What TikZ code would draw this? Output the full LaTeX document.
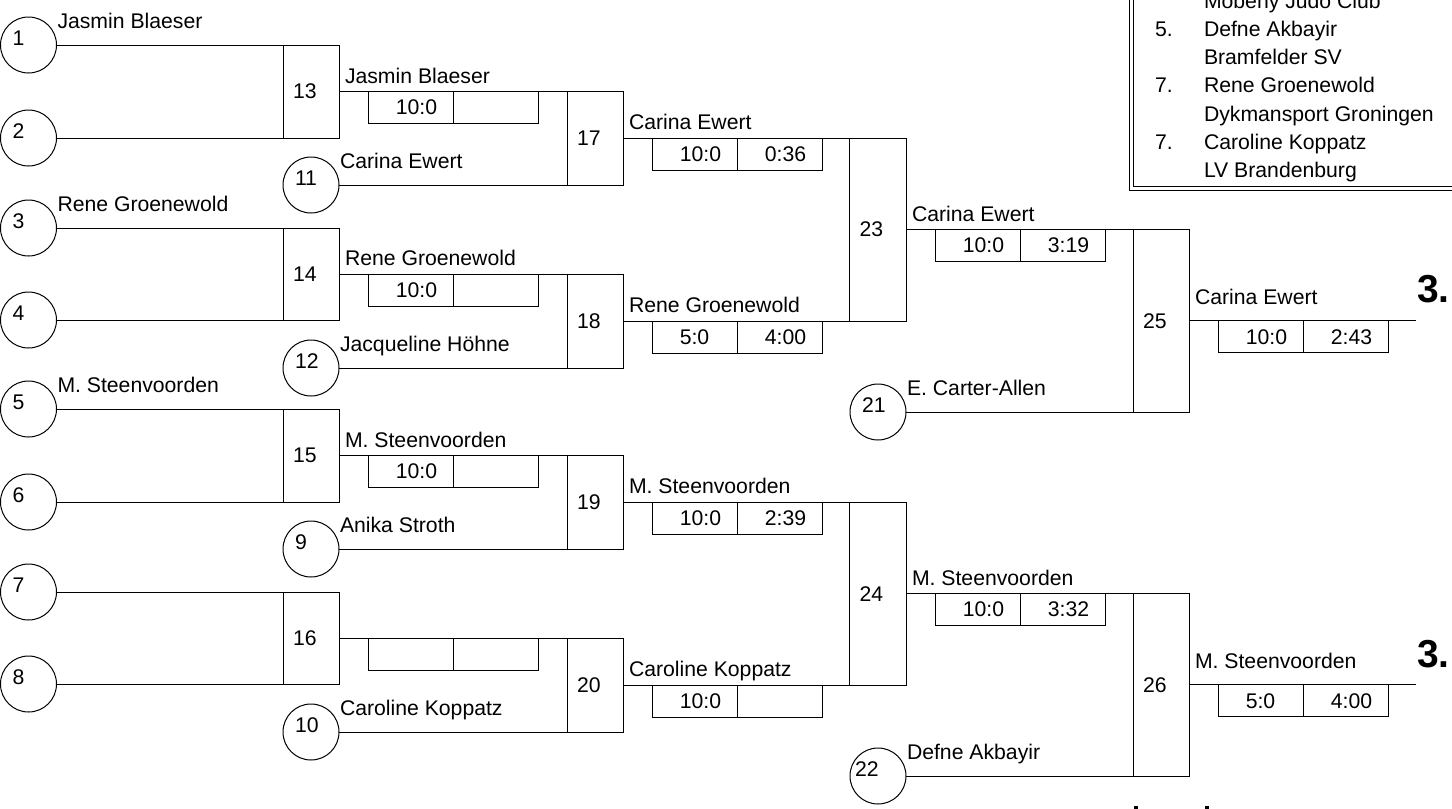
\documentclass[tikz,border=0pt]{standalone}
\usepackage{fontspec}
\setmainfont{Liberation Sans}
\usetikzlibrary{fit}
\newcommand\pcirc[4]{%
  \node[pc] (c#1) at (#2,#3) {};
  \node[txt, anchor=west] (t#1) at ([shift={(#4,-6.5)}]c#1.center) {#1};}
\newcommand\plabel[2]{%
  \node[txt, anchor=base west] (p#1) at ([shift={(1,-17)}]c#1.east) {#2};}
\newcommand\bnum[1]{%
  \node[txt, anchor=west] (n#1) at ([shift={(10,0)}]b#1.west) {#1};}
\newcommand\bscore[4]{%
  \node[bx, fit={([shift={(29,0)}]b#1.east) ([shift={(114,32)}]b#1.east)}] (s#1a) {};
  \node[bx, fit={([shift={(114,0)}]b#1.east) ([shift={(199,32)}]b#1.east)}] (s#1b) {};
  \node[txt] (v#1a) at ([shift={(#4,0)}]s#1a.center) {#2};
  \node[txt] (v#1b) at ([shift={(6,0)}]s#1b.center) {#3};}
\newcommand\wlabel[3]{%
  \node[txt, anchor=base west] (w#1) at ([shift={(6,#3)}]b#1.east) {#2};}
\begin{document}
\begin{tikzpicture}[x=0.5pt,y=-0.5pt,
  ln/.style={line width=0.5pt, draw=black},
  pc/.style={circle, draw, line width=0.5pt, minimum size=28pt, inner sep=0pt, outer sep=0pt},
  bx/.style={draw, line width=0.5pt, inner sep=0pt, outer sep=0pt},
  txt/.style={inner sep=0pt, outer sep=0pt, font=\fontsize{10.6}{12}\selectfont},
  big/.style={inner sep=0pt, outer sep=0pt, font=\fontsize{19.5}{22}\selectfont\bfseries}]
\useasboundingbox (0,0) rectangle (1452,809);
\clip (0,0) rectangle (1452,809);
% round 1 circles
\pcirc{1}{28.5}{45}{-16}
\pcirc{2}{28.5}{138}{-16}
\pcirc{3}{28.5}{228}{-16}
\pcirc{4}{28.5}{320}{-16}
\pcirc{5}{28.5}{409}{-16}
\pcirc{6}{28.5}{502}{-16}
\pcirc{7}{28.5}{592}{-16}
\pcirc{8}{28.5}{684}{-16}
\pcirc{11}{311}{185}{-16}
\pcirc{12}{311}{368}{-16}
\pcirc{9}{311}{549}{-16}
\pcirc{10}{311}{732}{-16}
\pcirc{21}{878}{412}{-16}
\pcirc{22}{878}{776}{-23}
\plabel{1}{Jasmin Blaeser}
\plabel{3}{Rene Groenewold}
\plabel{5}{M. Steenvoorden}
\plabel{11}{Carina Ewert}
\plabel{12}{Jacqueline Höhne}
\plabel{9}{Anika Stroth}
\plabel{10}{Caroline Koppatz}
\plabel{21}{E. Carter-Allen}
\plabel{22}{Defne Akbayir}
% round 1 boxes
\node[bx, fit={(283,0 |- c1.east) (339,0 |- c2.east)}] (b13) {};
\node[bx, fit={(283,0 |- c3.east) (339,0 |- c4.east)}] (b14) {};
\node[bx, fit={(283,0 |- c5.east) (339,0 |- c6.east)}] (b15) {};
\node[bx, fit={(283,0 |- c7.east) (339,0 |- c8.east)}] (b16) {};
% round 2 boxes
\node[bx, fit={(567,0 |- b13.east) (623,0 |- c11.east)}] (b17) {};
\node[bx, fit={(567,0 |- b14.east) (623,0 |- c12.east)}] (b18) {};
\node[bx, fit={(567,0 |- b15.east) (623,0 |- c9.east)}] (b19) {};
\node[bx, fit={(567,0 |- b16.east) (623,0 |- c10.east)}] (b20) {};
% round 3 boxes
\node[bx, fit={(849.5,0 |- b17.east) (906,0 |- b18.east)}] (b23) {};
\node[bx, fit={(849.5,0 |- b19.east) (906,0 |- b20.east)}] (b24) {};
% round 4 boxes
\node[bx, fit={(1133,0 |- b23.east) (1189,0 |- c21.east)}] (b25) {};
\node[bx, fit={(1133,0 |- b24.east) (1189,0 |- c22.east)}] (b26) {};
\foreach \i in {13,14,15,16,17,18,19,20,23,24,25,26} {\bnum{\i}}
% connectors
\draw[ln] (c1.east) -- (b13.north east);
\draw[ln] (c2.east) -- (b13.south east);
\draw[ln] (c3.east) -- (b14.north east);
\draw[ln] (c4.east) -- (b14.south east);
\draw[ln] (c5.east) -- (b15.north east);
\draw[ln] (c6.east) -- (b15.south east);
\draw[ln] (c7.east) -- (b16.north east);
\draw[ln] (c8.east) -- (b16.south east);
\draw[ln] (b13.east) -- (b17.north east);
\draw[ln] (c11.east) -- (b17.south east);
\draw[ln] (b14.east) -- (b18.north east);
\draw[ln] (c12.east) -- (b18.south east);
\draw[ln] (b15.east) -- (b19.north east);
\draw[ln] (c9.east) -- (b19.south east);
\draw[ln] (b16.east) -- (b20.north east);
\draw[ln] (c10.east) -- (b20.south east);
\draw[ln] (b17.east) -- (b23.north east);
\draw[ln] (b18.east) -- (b23.south east);
\draw[ln] (b19.east) -- (b24.north east);
\draw[ln] (b20.east) -- (b24.south east);
\draw[ln] (b23.east) -- (b25.north east);
\draw[ln] (c21.east) -- (b25.south east);
\draw[ln] (b24.east) -- (b26.north east);
\draw[ln] (c22.east) -- (b26.south east);
\coordinate (f25) at (1416,0 |- b25.east);
\coordinate (f26) at (1416,0 |- b26.east);
\draw[ln] (b25.east) -- (f25);
\draw[ln] (b26.east) -- (f26);
% scores
\bscore{13}{10:0}{}{6}
\bscore{14}{10:0}{}{6}
\bscore{15}{10:0}{}{6}
\bscore{16}{}{}{0}
\bscore{17}{10:0}{0:36}{6}
\bscore{18}{5:0}{4:00}{0}
\bscore{19}{10:0}{2:39}{6}
\bscore{20}{10:0}{}{6}
\bscore{23}{10:0}{3:19}{6}
\bscore{24}{10:0}{3:32}{6}
\bscore{25}{10:0}{2:43}{6}
\bscore{26}{5:0}{4:00}{0}
% winner labels
\wlabel{13}{Jasmin Blaeser}{-8.5}
\wlabel{14}{Rene Groenewold}{-8.5}
\wlabel{15}{M. Steenvoorden}{-8.5}
\wlabel{17}{Carina Ewert}{-8.5}
\wlabel{18}{Rene Groenewold}{-8.5}
\wlabel{19}{M. Steenvoorden}{-8.5}
\wlabel{20}{Caroline Koppatz}{-8.5}
\wlabel{23}{Carina Ewert}{-8.5}
\wlabel{24}{M. Steenvoorden}{-8.5}
\wlabel{25}{Carina Ewert}{-16}
\wlabel{26}{M. Steenvoorden}{-16}
\node[big, anchor=base west] (r25) at (1417,302) {3.};
\node[big, anchor=base west] (r26) at (1417,667) {3.};
% ranking box
\node[bx, fit={(1129,-30) (1480,190.5)}] (rankout) {};
\node[bx, fit={(1133,-30) (1476,186)}] (rankin) {};
\node[txt, anchor=base west] (k0) at (1204,8) {Mobeny Judo Club};
\node[txt, anchor=base west] (k1p) at (1155,36) {5.};
\node[txt, anchor=base west] (k1) at (1204,36) {Defne Akbayir};
\node[txt, anchor=base west] (k1c) at (1204,64) {Bramfelder SV};
\node[txt, anchor=base west] (k2p) at (1155,92.5) {7.};
\node[txt, anchor=base west] (k2) at (1204,92.5) {Rene Groenewold};
\node[txt, anchor=base west] (k2c) at (1204,121) {Dykmansport Groningen};
\node[txt, anchor=base west] (k3p) at (1155,149) {7.};
\node[txt, anchor=base west] (k3) at (1204,149) {Caroline Koppatz};
\node[txt, anchor=base west] (k3c) at (1204,177) {LV Brandenburg};
% cut-off marks at bottom
\fill[black] (1134,806) rectangle (1138,812);
\fill[black] (1205,806) rectangle (1209,812);
\end{tikzpicture}
\end{document}
